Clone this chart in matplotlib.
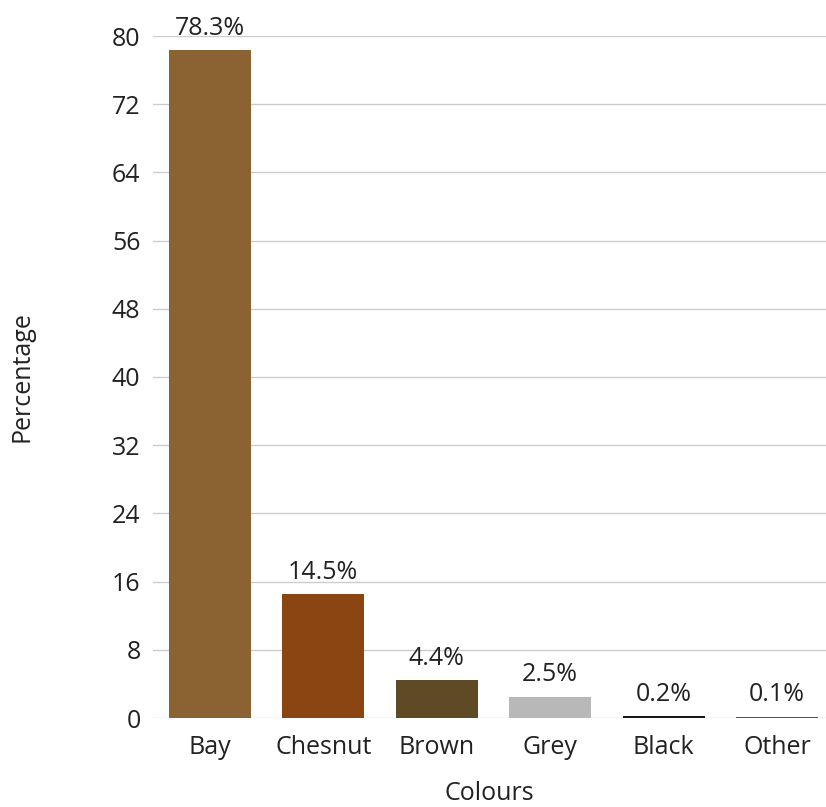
import matplotlib.pyplot as plt
import numpy as np

# Datos del gráfico
colores = ["Bay", "Chesnut", "Brown", "Grey", "Black", "Other"]
porcentajes = [78.3, 14.5, 4.4, 2.5, 0.2, 0.1]
colores_barras = ["#8B6332", "#8B4513", "#5F4A26", "#B8B8B8", "#1A1A1A", "#8B4513"]

plt.rcParams['font.family'] = ['Open Sans', 'DejaVu Sans']
plt.rcParams['text.color'] = '#222222'

fig = plt.figure(figsize=(8.26, 8.07), dpi=100)
ax = fig.add_axes([153 / 826, 1 - 718 / 807, 1 - 153 / 826, (718 - 36) / 807])

x = np.arange(len(colores))
ax.bar(x, porcentajes, width=0.72, color=colores_barras, zorder=2)

# Etiquetas encima de cada barra
for xi, v in zip(x, porcentajes):
    ax.annotate(f"{v}%", (xi, v), xytext=(0, 7), textcoords="offset points",
                ha="center", va="bottom", fontsize=18, color="#222222")

ax.set_ylim(0, 80)
ax.set_yticks(np.arange(0, 81, 8))
ax.set_xlim(-0.5, 5.43)
ax.set_xticks(x)
ax.set_xticklabels(colores)
ax.tick_params(axis="both", length=0, labelsize=18, colors="#222222", pad=9)
ax.tick_params(axis="x", pad=12)

ax.grid(axis="y", color="#CCCCCC", linewidth=1, zorder=0)
for s in ax.spines.values():
    s.set_visible(False)

ax.set_ylabel("Percentage", fontsize=18, color="#222222", labelpad=56)
ax.set_xlabel("Colours", fontsize=18, color="#222222", labelpad=15)

fig.savefig("out.png", dpi=100)
